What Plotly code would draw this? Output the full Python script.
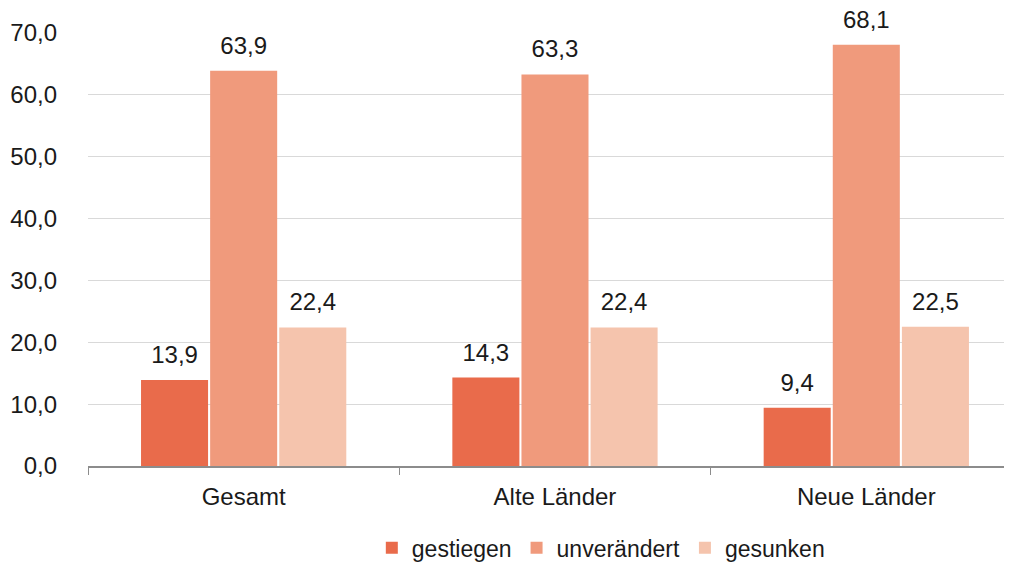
import plotly.graph_objects as go

categories = ["Gesamt", "Alte Länder", "Neue Länder"]
series_names = ["gestiegen", "unverändert", "gesunken"]
gestiegen = [13.9, 14.3, 9.4]
unveraendert = [63.9, 63.3, 68.1]
gesunken = [22.4, 22.4, 22.5]
values = [gestiegen, unveraendert, gesunken]
colors = ["#E96B4B", "#F09A7C", "#F5C4AD"]
y_ticks = [0, 10, 20, 30, 40, 50, 60, 70]

FONT = "Liberation Sans, Arial, sans-serif"

fig = go.Figure()
for name, vals, col in zip(series_names, values, colors):
    fig.add_trace(go.Bar(
        x=categories, y=vals, name=name, marker_color=col,
        marker_line_width=0, offsetgroup=name,
    ))
for name, vals in zip(series_names, values):
    fig.add_trace(go.Scatter(
        x=categories, y=vals, mode="markers+text",
        marker=dict(size=16, opacity=0),
        text=[f"{v:.1f}".replace(".", ",") for v in vals],
        textposition="top center", textfont=dict(size=24, color="#1a1a1a", family=FONT),
        offsetgroup=name, showlegend=False, hoverinfo="skip", cliponaxis=False,
    ))

fig.update_layout(
    width=1004, height=563,
    margin=dict(l=80, r=0, t=25, b=105),
    paper_bgcolor="white", plot_bgcolor="white",
    barmode="group", bargap=0.334, bargroupgap=0.03,
    scattermode="group", scattergap=0.334,
    separators=",.",
    font=dict(family=FONT, size=24, color="#1a1a1a"),
    showlegend=True,
    legend=dict(orientation="h", x=0.555, xanchor="center", y=-0.189, yanchor="middle",
                font=dict(size=23, color="#1a1a1a"), traceorder="normal", itemwidth=30),
    xaxis=dict(showline=True, linecolor="#8c8c8c", linewidth=1.5, ticks="outside",
               tickson="boundaries", ticklen=7, tickcolor="#8c8c8c", automargin=False,
               range=[-0.5, 2.468], tickfont=dict(size=24), ticklabelstandoff=8),
    yaxis=dict(range=[0, 70], tickvals=y_ticks, tickformat=".1f", showgrid=True,
               gridcolor="#d9d9d9", gridwidth=1, zeroline=False, showline=False,
               automargin=False, ticklabelstandoff=30, tickfont=dict(size=24)),
)
fig.write_html("out.html")
